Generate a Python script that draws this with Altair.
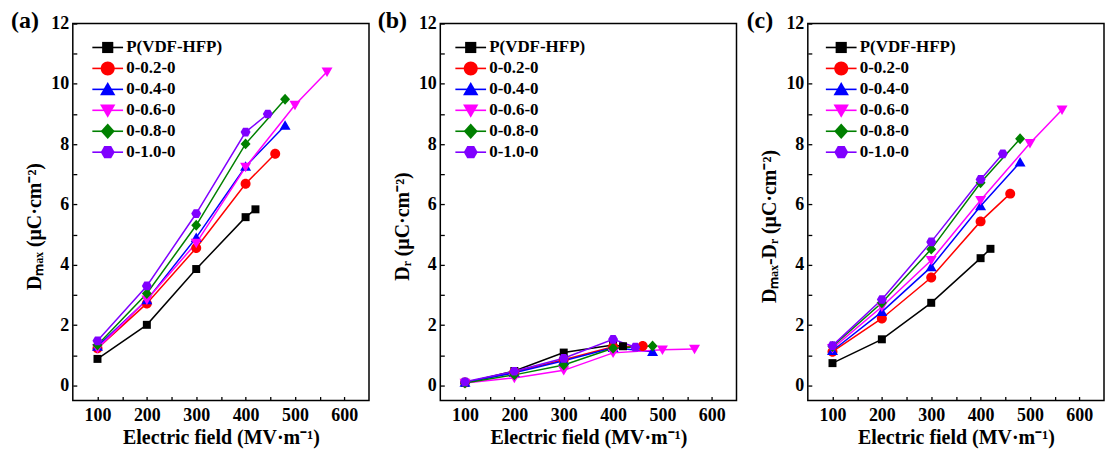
import altair as alt
import pandas as pd

# ---------------- data ----------------
series = ["P(VDF-HFP)", "0-0.2-0", "0-0.4-0", "0-0.6-0", "0-0.8-0", "0-1.0-0"]
colors = ["#000000", "#FF0000", "#0000FF", "#FF00FF", "#008000", "#8000FF"]

e_black = [100, 200, 300, 400, 420]
e_red = [100, 200, 300, 400, 460]
e_blue = [100, 200, 300, 400, 480]
e_magenta = [100, 200, 300, 400, 500, 565]
e_green = [100, 200, 300, 400, 480]
e_purple = [100, 200, 300, 400, 445]

# (a) Dmax
dmax_black = [0.88, 2.01, 3.86, 5.58, 5.84]
dmax_red = [1.23, 2.72, 4.56, 6.69, 7.68]
dmax_blue = [1.29, 2.83, 4.90, 7.26, 8.62]
dmax_magenta = [1.23, 2.84, 4.72, 7.24, 9.30, 10.40]
dmax_green = [1.34, 3.05, 5.31, 8.01, 9.49]
dmax_purple = [1.48, 3.30, 5.70, 8.40, 9.00]

# (b) Dr
dr_black = [0.09, 0.48, 1.09, 1.34, 1.30]
dr_red = [0.10, 0.45, 0.85, 1.28, 1.31]
dr_blue = [0.10, 0.42, 0.82, 1.25, 1.12]
dr_magenta = [0.08, 0.25, 0.50, 1.08, 1.18, 1.21]
dr_green = [0.08, 0.35, 0.68, 1.23, 1.31]
dr_purple = [0.12, 0.47, 0.90, 1.53, 1.27]

# (c) Dmax - Dr
dd_black = [0.74, 1.53, 2.74, 4.22, 4.53]
dd_red = [1.12, 2.22, 3.58, 5.44, 6.36]
dd_blue = [1.15, 2.44, 3.93, 5.95, 7.40]
dd_magenta = [1.23, 2.61, 4.15, 6.14, 8.03, 9.14]
dd_green = [1.29, 2.74, 4.52, 6.72, 8.18]
dd_purple = [1.32, 2.85, 4.76, 6.83, 7.68]

x_ticks = [100, 150, 200, 250, 300, 350, 400, 450, 500, 550, 600]
y_ticks = [0, 1, 2, 3, 4, 5, 6, 7, 8, 9, 10, 11, 12]

fields = [e_black, e_red, e_blue, e_magenta, e_green, e_purple]
panel_vals = {
    "a": [dmax_black, dmax_red, dmax_blue, dmax_magenta, dmax_green, dmax_purple],
    "b": [dr_black, dr_red, dr_blue, dr_magenta, dr_green, dr_purple],
    "c": [dd_black, dd_red, dd_blue, dd_magenta, dd_green, dd_purple],
}


def frame(key):
    rows = []
    for name, es, vs in zip(series, fields, panel_vals[key]):
        for e, v in zip(es, vs):
            rows.append({"series": name, "E": e, "val": v})
    return pd.DataFrame(rows)


# ---------------- marker shapes ----------------
SQ = "M-0.8,-0.8H0.8V0.8H-0.8Z"
CI = "M-1,0A1,1 0 1,0 1,0A1,1 0 1,0 -1,0Z"
TU = "M0,-1.05L1.1,0.85L-1.1,0.85Z"
TD = "M0,1.05L1.1,-0.85L-1.1,-0.85Z"
DI = "M0,-1.1L1,0L0,1.1L-1,0Z"
HX = "M-1,0L-0.5,-0.87L0.5,-0.87L1,0L0.5,0.87L-0.5,0.87Z"
markers = [SQ, CI, TU, TD, DI, HX]
LINE = "M-2.2,0H2.2"
line_keys = [s + " " for s in series]

FONT = "Liberation Serif"


def panel(key, ytitle, label, lx, ly):
    df = frame(key)
    x = alt.X("E:Q", scale=alt.Scale(domain=[50, 650], nice=False, zero=False),
              axis=alt.Axis(values=x_ticks, title="Electric field (MV\u00b7m\u207b\u00b9)",
                            labelExpr="datum.value % 100 == 0 ? datum.label : ''",
                            format="d"))
    y = alt.Y("val:Q", scale=alt.Scale(domain=[-0.5, 12], nice=False, zero=False),
              axis=alt.Axis(values=y_ticks, title=ytitle, titleY=203,
                            labelExpr="datum.value % 2 == 0 ? datum.label : ''",
                            format="d"))
    common = dict(orient="none", legendX=lx, legendY=ly, symbolSize=196, title=None,
                  labelFont=FONT, labelFontSize=17, labelFontWeight="bold",
                  labelOffset=10, rowPadding=3, padding=0, symbolOpacity=1)
    leg_marker = alt.Legend(labelColor="black", symbolStrokeWidth=0, **common)
    leg_line = alt.Legend(labelOpacity=0, symbolType=LINE, symbolStrokeWidth=1.6,
                          symbolFillColor="transparent", **common)
    color = alt.Color("series:N", scale=alt.Scale(domain=series, range=colors), legend=leg_marker)
    base = alt.Chart(df)
    lines = base.mark_line(strokeWidth=1.5).encode(x=x, y=y, color=color)
    pts = base.mark_point(filled=True, opacity=1, size=100, strokeWidth=0).encode(
        x=x, y=y, color=color,
        shape=alt.Shape("series:N", scale=alt.Scale(domain=series, range=markers),
                        legend=leg_marker))
    hidden = base.transform_calculate(key="datum.series + ' '").transform_filter(
        "datum.E < 0").mark_line().encode(
        x=x, y=y,
        stroke=alt.Stroke("key:N", scale=alt.Scale(domain=line_keys, range=colors),
                          legend=leg_line))
    lab = alt.Chart(pd.DataFrame({"t": [label]})).mark_text(
        font=FONT, fontSize=24, fontWeight="bold", align="center", baseline="middle", color="black"
    ).encode(x=alt.value(-48), y=alt.value(-3), text="t:N")
    return alt.layer(hidden, lines, pts, lab).properties(width=297, height=378)


pa = panel("a", "D\u2098\u2090\u2093 (\u03bcC\u00b7cm\u207b\u00b2)", "(a)", 26.5, 15.5)
pb = panel("b", "D\u1d63 (\u03bcC\u00b7cm\u207b\u00b2)", "(b)", 22, 15.5)
pc = panel("c", "D\u2098\u2090\u2093-D\u1d63 (\u03bcC\u00b7cm\u207b\u00b2)", "(c)", 25, 15.5)

chart = alt.hconcat(pa, pb, pc, spacing=71.5, bounds="flush").resolve_scale(
    color="independent", shape="independent", stroke="independent"
).resolve_legend(
    color="independent", shape="independent", stroke="independent"
).properties(
    padding={"left": 10, "top": 7, "right": 0, "bottom": 0},
    background="white",
).configure_view(stroke="black", strokeWidth=1.5).configure_axis(
    grid=False, domain=False, offset=-4, tickSize=4, tickColor="black", tickWidth=1.3,
    labelFont=FONT, labelFontSize=18, labelFontWeight="bold", labelColor="black",
    labelPadding=4, titleFont=FONT, titleFontSize=20, titleFontWeight="bold",
    titleColor="black",
).configure_axisX(labelPadding=6, titlePadding=3).configure_axisY(titlePadding=6).configure_legend(
    labelFont=FONT, labelFontWeight="bold", labelFontSize=17)

chart.save("out.html", embed_options={"renderer": "svg", "actions": False})
